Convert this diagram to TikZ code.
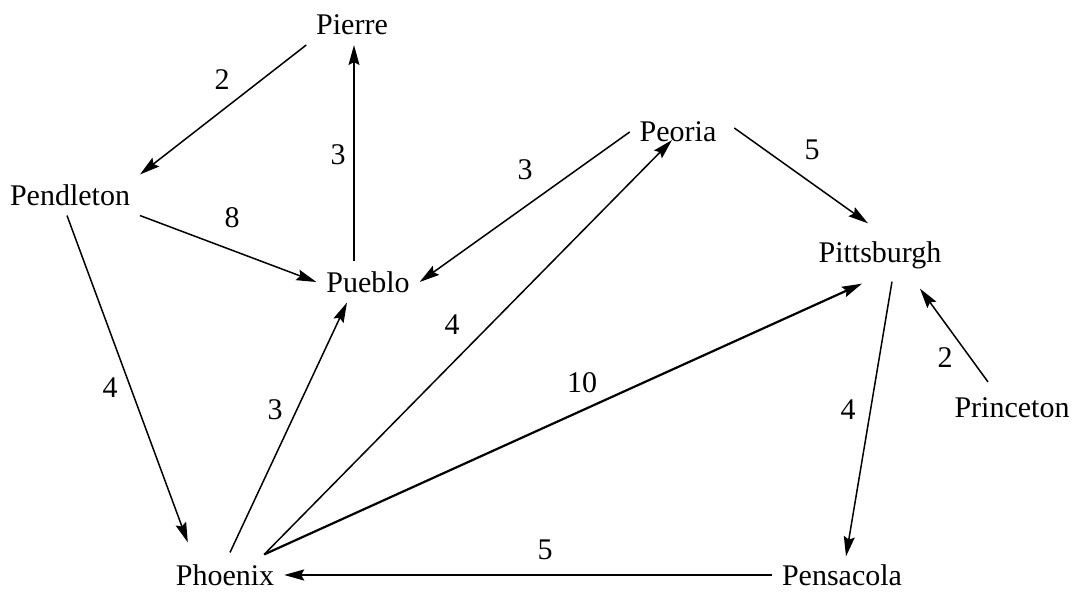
\documentclass[tikz,border=0pt]{standalone}
\usepackage{fontspec}
\setmainfont{Liberation Serif}
\usetikzlibrary{arrows.meta,calc}
\begin{document}
\begin{tikzpicture}[x=0.5pt,y=-0.5pt,
  city/.style={inner sep=2pt, outer sep=3pt, font=\fontsize{15}{17}\selectfont},
  lab/.style={inner sep=0pt, font=\fontsize{15}{17}\selectfont},
  edge/.style={line width=0.75pt, -{Stealth[length=10pt,width=5.5pt,inset=1.5pt]}},
  thick edge/.style={edge, line width=1.1pt}]
\useasboundingbox (0,0) rectangle (1073,592);
\node[city] (pierre) at (352,25) {Pierre};
\node[city] (pendleton) at (70,195) {Pendleton};
\node[city] (pueblo) at (368,282) {Pueblo};
\node[city] (peoria) at (678,132) {Peoria};
\node[city] (pittsburgh) at (880,255) {Pittsburgh};
\node[city] (princeton) at (1012,408) {Princeton};
\node[city] (phoenix) at (225,575) {Phoenix};
\node[city] (pensacola) at (842,575) {Pensacola};

\draw[edge] (pierre.south west) -- (pendleton.north east);
\draw[edge] ($(pueblo.north)+(-14,0)$) -- ($(pierre.south)+(2,0)$);
\draw[edge] (pendleton.south east) -- (pueblo.west);
\draw[edge] (peoria.west) -- (pueblo.east);
\draw[edge] ($(pendleton.south)+(-3,0)$) -- ($(phoenix.north west)+(22,-12)$);
\draw[edge] ($(phoenix.north)+(5,-2)$) -- ($(pueblo.south)+(-21,0)$);
\draw[edge] ($(phoenix.north east)+(-20,0)$) -- ($(peoria.south)+(-6,-12)$);
\draw[thick edge] ($(phoenix.north east)+(-20,0)$) -- ($(pittsburgh.south)+(-18,5)$);
\draw[edge] ($(peoria.east)+(8,-4)$) -- ($(pittsburgh.north)+(-12,-8)$);
\draw[edge] ($(pittsburgh.south)+(12,3)$) -- ($(pensacola.north)+(4,2)$);
\draw[edge] ($(princeton.north)+(-24,-6)$) -- ($(pittsburgh.south)+(40,10)$);
\draw[thick edge] (pensacola) -- (phoenix);

\node[lab] (l1) at (222,80) {2};
\node[lab] (l2) at (338,155) {3};
\node[lab] (l3) at (232,218) {8};
\node[lab] (l4) at (525,170) {3};
\node[lab] (l5) at (110,388) {4};
\node[lab] (l6) at (275,410) {3};
\node[lab] (l7) at (452,325) {4};
\node[lab] (l8) at (582,383) {10};
\node[lab] (l9) at (812,150) {5};
\node[lab] (l10) at (848,410) {4};
\node[lab] (l11) at (945,358) {2};
\node[lab] (l12) at (545,550) {5};
\end{tikzpicture}
\end{document}
